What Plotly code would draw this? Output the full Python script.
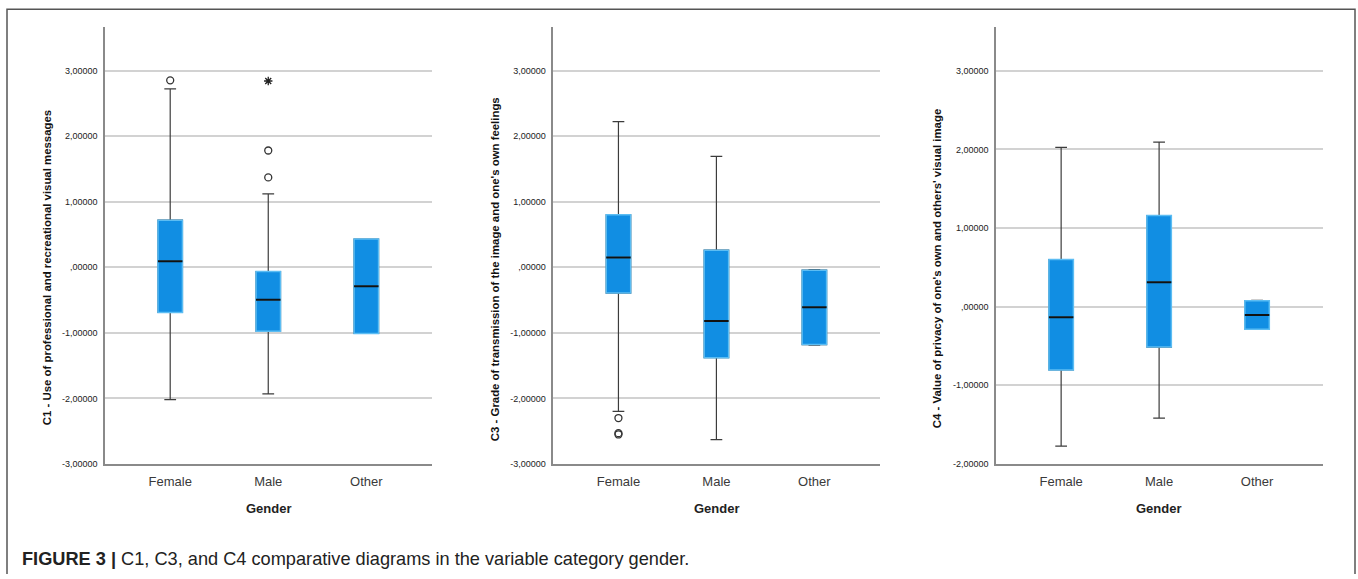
import plotly.graph_objects as go

W, H = 1358, 579

categories = ["Female", "Male", "Other"]

# C1 - Use of professional and recreational visual messages
c1_low = [-2.02, -1.93, -1.01]
c1_q1 = [-0.69, -0.975, -1.01]
c1_median = [0.09, -0.495, -0.29]
c1_q3 = [0.717, -0.065, 0.43]
c1_high = [2.72, 1.12, 0.43]
c1_out_x = ["Female", "Male", "Male"]
c1_out_y = [2.85, 1.78, 1.37]
c1_ext_x = ["Male"]
c1_ext_y = [2.84]

# C3 - Grade of transmission of the image and one's own feelings
c3_low = [-2.197, -2.63, -1.19]
c3_q1 = [-0.394, -1.38, -1.18]
c3_median = [0.147, -0.82, -0.61]
c3_q3 = [0.80, 0.26, -0.045]
c3_high = [2.22, 1.69, -0.035]
c3_out_x = ["Female", "Female", "Female"]
c3_out_y = [-2.30, -2.53, -2.55]

# C4 - Value of privacy of one's own and others' visual image
c4_low = [-1.774, -1.417, -0.29]
c4_q1 = [-0.805, -0.513, -0.286]
c4_median = [-0.135, 0.31, -0.106]
c4_q3 = [0.60, 1.16, 0.076]
c4_high = [2.025, 2.093, 0.08]

ticks_c1c3 = [-3, -2, -1, 0, 1, 2, 3]
ticklabels_c1c3 = ["-3,00000", "-2,00000", "-1,00000", ",00000", "1,00000", "2,00000", "3,00000"]
ticks_c4 = [-2, -1, 0, 1, 2, 3]
ticklabels_c4 = ["-2,00000", "-1,00000", ",00000", "1,00000", "2,00000", "3,00000"]

y_titles = [
    "C1 - Use of professional and recreational visual messages",
    "C3 - Grade of transmission of the image and one's own feelings",
    "C4 - Value of privacy of one's own and others' visual image",
]
x_title = "Gender"
caption_bold = "FIGURE 3 |"
caption_text = " C1, C3, and C4 comparative diagrams in the variable category gender."

FILL = "#118ee3"
EDGE = "#5cbdf3"
WHISK = "#3c3c3c"
BOXW = 0.25

fig = go.Figure()


def add_panel(n, low, q1, med, q3, high):
    xa = "x" if n == 1 else f"x{n}"
    ya = "y" if n == 1 else f"y{n}"
    # whiskers + caps
    fig.add_trace(go.Box(x=categories, q1=q1, median=med, q3=q3,
                         lowerfence=low, upperfence=high, width=BOXW,
                         whiskerwidth=0.48, fillcolor=FILL,
                         line=dict(color=WHISK, width=1.2),
                         xaxis=xa, yaxis=ya, showlegend=False, hoverinfo="skip"))
    # box body
    fig.add_trace(go.Box(x=categories, q1=q1, median=med, q3=q3,
                         lowerfence=q1, upperfence=q3, width=BOXW,
                         whiskerwidth=0.0, fillcolor=FILL,
                         line=dict(color=EDGE, width=1.5),
                         xaxis=xa, yaxis=ya, showlegend=False, hoverinfo="skip"))
    # median line
    fig.add_trace(go.Box(x=categories, q1=med, median=med, q3=med,
                         lowerfence=med, upperfence=med, width=BOXW,
                         whiskerwidth=0.0, fillcolor="rgba(0,0,0,0)",
                         line=dict(color="#111111", width=2),
                         xaxis=xa, yaxis=ya, showlegend=False, hoverinfo="skip"))


add_panel(1, c1_low, c1_q1, c1_median, c1_q3, c1_high)
add_panel(2, c3_low, c3_q1, c3_median, c3_q3, c3_high)
add_panel(3, c4_low, c4_q1, c4_median, c4_q3, c4_high)

fig.add_trace(go.Scatter(x=c1_out_x, y=c1_out_y, mode="markers",
                         marker=dict(symbol="circle-open", size=7, color="#333333", line=dict(width=1.3)),
                         xaxis="x", yaxis="y", showlegend=False, hoverinfo="skip"))
fig.add_trace(go.Scatter(x=c1_ext_x, y=c1_ext_y, mode="markers",
                         marker=dict(symbol="asterisk-open", size=7, color="#222222", line=dict(width=1.3)),
                         xaxis="x", yaxis="y", showlegend=False, hoverinfo="skip"))
fig.add_trace(go.Scatter(x=c3_out_x, y=c3_out_y, mode="markers",
                         marker=dict(symbol="circle-open", size=7, color="#333333", line=dict(width=1.3)),
                         xaxis="x2", yaxis="y2", showlegend=False, hoverinfo="skip"))

# pixel geometry
xdoms = [(105, 432), (553.3, 880), (996, 1322.7)]
ytop, ybot = 27, 468
ydom = [1 - ybot / H, 1 - ytop / H]

axis_common = dict(showline=True, linecolor="#8a8a8a", linewidth=1.5, ticks="",
                   zeroline=False, fixedrange=True)

layout = dict(width=W, height=H, margin=dict(l=0, r=0, t=0, b=0),
              paper_bgcolor="white", plot_bgcolor="white", boxmode="overlay",
              font=dict(family="Liberation Sans, Arial, sans-serif", color="#222"))

for i, (x0, x1) in enumerate(xdoms, start=1):
    sfx = "" if i == 1 else str(i)
    layout[f"xaxis{sfx}"] = dict(axis_common, domain=[x0 / W, x1 / W], range=[-0.665, 2.67],
                                 anchor=f"y{sfx}", showgrid=False, type="category",
                                 tickfont=dict(size=13, color="#3a3a3a"), ticklabelstandoff=5)
    if i < 3:
        yr, tv, tt = [-3, 3.667], ticks_c1c3, ticklabels_c1c3
    else:
        yr, tv, tt = [-2, 3.56], ticks_c4, ticklabels_c4
    layout[f"yaxis{sfx}"] = dict(axis_common, domain=ydom, range=yr, anchor=f"x{sfx}",
                                 tickvals=tv, ticktext=tt, showgrid=True,
                                 gridcolor="#d2d2d2", gridwidth=1.5,
                                 tickfont=dict(size=9, color="#222"), ticklabelstandoff=4)

fig.update_layout(**layout)

annotations = []
title_x = [46.5, 495, 937]
title_yc = [270, 271.5, 271.5]
for i, (x0, x1) in enumerate(xdoms):
    annotations.append(dict(text=f"<b>{y_titles[i]}</b>", x=title_x[i] / W, y=1 - title_yc[i] / H,
                            xref="paper", yref="paper", textangle=-90, showarrow=False,
                            font=dict(size=11.4, color="#111"), xanchor="center", yanchor="middle"))
    annotations.append(dict(text=f"<b>{x_title}</b>", x=((x0 + x1) / 2) / W, y=1 - 513 / H,
                            xref="paper", yref="paper", showarrow=False,
                            font=dict(size=13, color="#222"), xanchor="center", yanchor="middle"))
annotations.append(dict(text=f"<b>{caption_bold}</b>{caption_text}", x=20 / W, y=1 - 564 / H,
                        xref="paper", yref="paper", showarrow=False, xanchor="left", yanchor="middle",
                        font=dict(size=18.2, color="#222", family="Liberation Sans, Arial")))
fig.update_layout(annotations=annotations)

# outer frame (open at bottom)
fig.add_shape(type="path", xref="paper", yref="paper",
              path=f"M {7/W} 0 L {7/W} {1-9.3/H} L {1355/W} {1-9.3/H} L {1355/W} 0",
              line=dict(color="#555555", width=1.5))

fig.write_html("out.html", config={"displayModeBar": False},
               post_script="document.body.style.margin='0px';document.body.style.overflow='hidden';")
